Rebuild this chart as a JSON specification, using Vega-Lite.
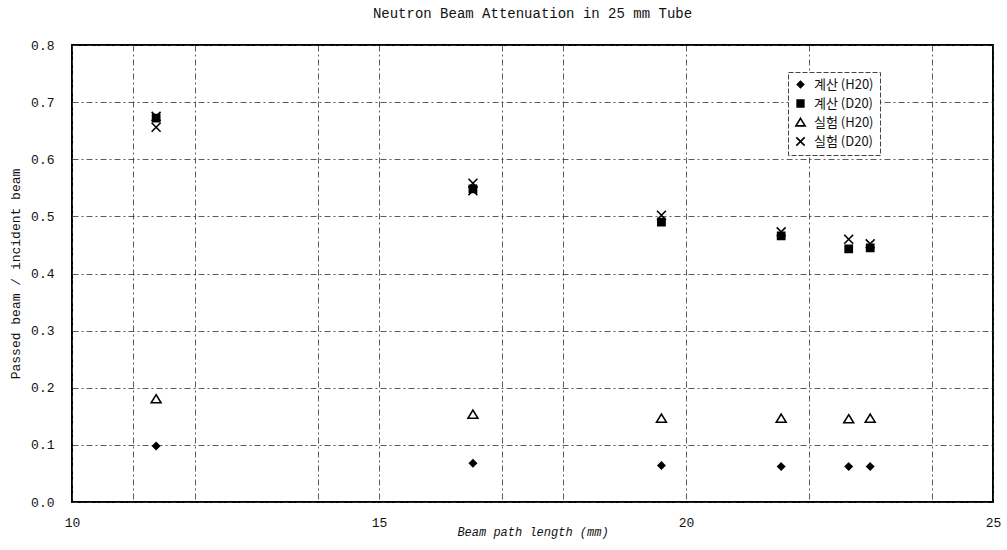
{
  "$schema": "https://vega.github.io/schema/vega-lite/v6.json",
  "width": 921,
  "height": 457,
  "autosize": {"type": "none"},
  "padding": {"left": 72, "top": 45, "right": 14, "bottom": 48},
  "background": "white",
  "title": {
    "text": "Neutron Beam Attenuation in 25 mm Tube",
    "font": "Liberation Mono",
    "fontSize": 14,
    "fontWeight": "normal",
    "color": "#111",
    "offset": 18,
    "anchor": "middle"
  },
  "config": {
    "view": {"stroke": "#000", "strokeWidth": 2},
    "axis": {
      "labelFont": "Liberation Mono",
      "labelFontSize": 13,
      "labelColor": "#111",
      "titleFont": "Liberation Mono",
      "titleFontSize": 13,
      "titleFontWeight": "normal",
      "titleColor": "#111",
      "domain": false,
      "ticks": false,
      "grid": true,
      "gridColor": "#333",
      "gridDash": [6, 3, 2, 3],
      "gridWidth": 1,
      "gridOpacity": 0.8
    },
    "legend": {
      "orient": "none",
      "legendX": 716,
      "legendY": 27,
      "labelFont": "Noto Sans CJK KR",
      "labelFontSize": 13,
      "labelColor": "#111",
      "labelOffset": 7,
      "fillColor": "white",
      "strokeColor": "#444",
      "strokeDash": [5, 2],
      "padding": 6,
      "rowPadding": 4,
      "symbolSize": 70,
      "symbolStrokeWidth": 1.6
    }
  },
  "data": {
    "values": [
      {"x": 11.37, "y": 0.098, "s": "계산 (H20)"},
      {"x": 16.53, "y": 0.068, "s": "계산 (H20)"},
      {"x": 19.6, "y": 0.064, "s": "계산 (H20)"},
      {"x": 21.55, "y": 0.062, "s": "계산 (H20)"},
      {"x": 22.65, "y": 0.062, "s": "계산 (H20)"},
      {"x": 23.0, "y": 0.062, "s": "계산 (H20)"},
      {"x": 11.37, "y": 0.672, "s": "계산 (D20)"},
      {"x": 16.53, "y": 0.548, "s": "계산 (D20)"},
      {"x": 19.6, "y": 0.49, "s": "계산 (D20)"},
      {"x": 21.55, "y": 0.466, "s": "계산 (D20)"},
      {"x": 22.65, "y": 0.443, "s": "계산 (D20)"},
      {"x": 23.0, "y": 0.445, "s": "계산 (D20)"},
      {"x": 11.37, "y": 0.18, "s": "실험 (H20)"},
      {"x": 16.53, "y": 0.153, "s": "실험 (H20)"},
      {"x": 19.6, "y": 0.146, "s": "실험 (H20)"},
      {"x": 21.55, "y": 0.146, "s": "실험 (H20)"},
      {"x": 22.65, "y": 0.145, "s": "실험 (H20)"},
      {"x": 23.0, "y": 0.146, "s": "실험 (H20)"},
      {"x": 11.37, "y": 0.675, "s": "실험 (D20)"},
      {"x": 11.37, "y": 0.656, "s": "실험 (D20)"},
      {"x": 16.53, "y": 0.558, "s": "실험 (D20)"},
      {"x": 16.53, "y": 0.545, "s": "실험 (D20)"},
      {"x": 19.6, "y": 0.502, "s": "실험 (D20)"},
      {"x": 21.55, "y": 0.473, "s": "실험 (D20)"},
      {"x": 22.65, "y": 0.46, "s": "실험 (D20)"},
      {"x": 23.0, "y": 0.452, "s": "실험 (D20)"}
    ]
  },
  "mark": {"type": "point", "strokeWidth": 1.6, "opacity": 1, "size": 80},
  "encoding": {
    "x": {
      "field": "x",
      "type": "quantitative",
      "scale": {"domain": [10, 25], "nice": false, "zero": false},
      "axis": {
        "title": "Beam path length (mm)",
        "titleFontStyle": "italic",
        "titleFontSize": 12,
        "titlePadding": -3,
        "labelPadding": 14,
        "values": [10, 11, 12, 14, 15, 17, 18, 20, 22, 24, 25],
        "labelExpr": "datum.value % 5 == 0 ? datum.label : ''",
        "labelFlush": false
      }
    },
    "y": {
      "field": "y",
      "type": "quantitative",
      "scale": {"domain": [0, 0.8], "nice": false},
      "axis": {
        "title": "Passed beam / incident beam",
        "titlePadding": 8,
        "labelPadding": 18,
        "format": ".1f",
        "values": [0, 0.1, 0.2, 0.3, 0.4, 0.5, 0.6, 0.7, 0.8]
      }
    },
    "shape": {
      "field": "s",
      "type": "nominal",
      "scale": {
        "domain": ["계산 (H20)", "계산 (D20)", "실험 (H20)", "실험 (D20)"],
        "range": [
          "M0,-0.75L0.75,0L0,0.75L-0.75,0Z",
          "M-0.8,-0.8L0.8,-0.8L0.8,0.8L-0.8,0.8Z",
          "M0,-1L1.1,0.8L-1.1,0.8Z",
          "M-1,-1L1,1M1,-1L-1,1"
        ]
      },
      "legend": {"title": null}
    },
    "fill": {
      "field": "s",
      "type": "nominal",
      "scale": {
        "domain": ["계산 (H20)", "계산 (D20)", "실험 (H20)", "실험 (D20)"],
        "range": ["#000", "#000", "transparent", "transparent"]
      },
      "legend": {"title": null}
    },
    "stroke": {
      "field": "s",
      "type": "nominal",
      "scale": {
        "domain": ["계산 (H20)", "계산 (D20)", "실험 (H20)", "실험 (D20)"],
        "range": ["#000", "#000", "#000", "#000"]
      },
      "legend": {"title": null}
    }
  }
}
